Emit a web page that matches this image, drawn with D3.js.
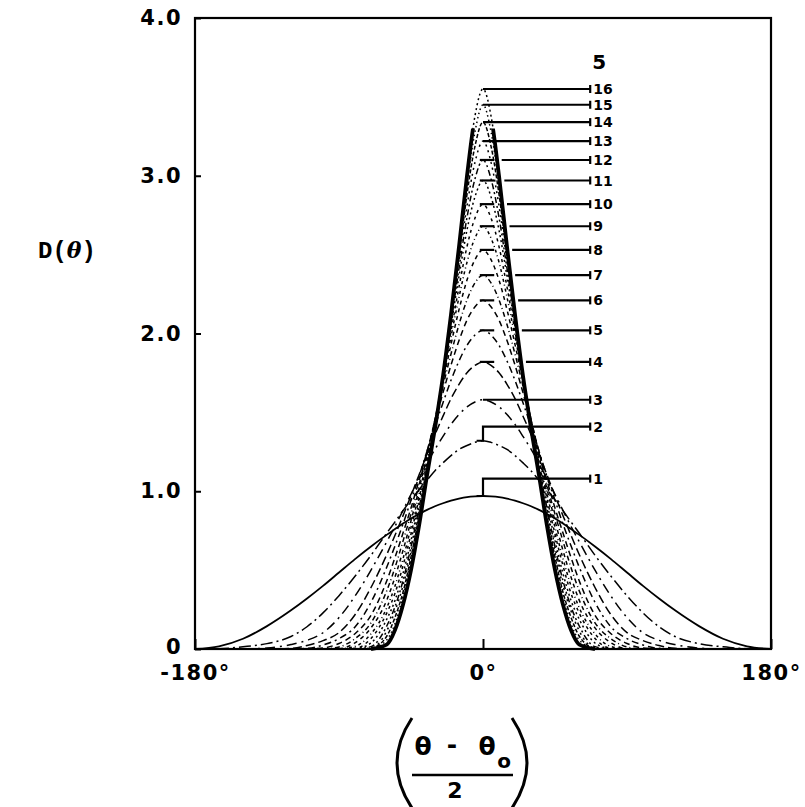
<!DOCTYPE html>
<html lang="en">
  <head>
    <meta charset="utf-8">
    <title>D(theta) curves</title>
    <script src="https://cdnjs.cloudflare.com/ajax/libs/d3/7.8.5/d3.min.js"></script>
    <style type="text/css">
      body { margin: 0; background: #fff; }
      svg { display: block; }
    </style>
  </head>
  <body>
    <script type="text/javascript">
    //Width and height
    var w = 805;
    var h = 807;

    // D(theta) at |(theta - theta0)/2| = halfAngles (curves are symmetric)
    var halfAngles = [0, 5, 10, 15, 20, 25, 30, 35, 40, 45, 50, 55, 60, 70, 80, 90, 100, 110, 120, 135, 150, 165, 180];

    var curve1  = [0.97, 0.968, 0.963, 0.953, 0.94, 0.924, 0.905, 0.882, 0.855, 0.827, 0.795, 0.76, 0.725, 0.65, 0.57, 0.485, 0.40, 0.32, 0.245, 0.145, 0.065, 0.017, 0];
    var curve2  = [1.32, 1.31, 1.29, 1.265, 1.226, 1.18, 1.13, 1.07, 1.01, 0.945, 0.877, 0.806, 0.737, 0.594, 0.461, 0.338, 0.229, 0.141, 0.079, 0.034, 0.014, 0.002, 0];
    var curve3  = [1.58, 1.566, 1.535, 1.487, 1.424, 1.348, 1.267, 1.177, 1.079, 0.981, 0.878, 0.778, 0.683, 0.50, 0.335, 0.199, 0.103, 0.055, 0.028, 0.006, 0];
    var curve4  = [1.82, 1.798, 1.751, 1.678, 1.587, 1.476, 1.36, 1.234, 1.103, 0.972, 0.845, 0.721, 0.602, 0.39, 0.217, 0.104, 0.053, 0.022, 0.004, 0];
    var curve5  = [2.02, 1.99, 1.925, 1.826, 1.703, 1.561, 1.412, 1.254, 1.093, 0.943, 0.792, 0.654, 0.523, 0.296, 0.14, 0.066, 0.025, 0.004, 0];
    var curve6  = [2.21, 2.17, 2.085, 1.955, 1.80, 1.625, 1.441, 1.253, 1.068, 0.894, 0.735, 0.58, 0.436, 0.214, 0.097, 0.035, 0.006, 0];
    var curve7  = [2.37, 2.321, 2.213, 2.057, 1.87, 1.667, 1.455, 1.242, 1.039, 0.855, 0.684, 0.516, 0.373, 0.166, 0.065, 0.013, 0];
    var curve8  = [2.53, 2.468, 2.339, 2.151, 1.931, 1.695, 1.457, 1.224, 1.013, 0.813, 0.624, 0.456, 0.313, 0.134, 0.039, 0.002, 0];
    var curve9  = [2.68, 2.605, 2.452, 2.23, 1.98, 1.718, 1.451, 1.201, 0.981, 0.771, 0.572, 0.40, 0.265, 0.096, 0.016, 0];
    var curve10 = [2.82, 2.732, 2.551, 2.295, 2.015, 1.728, 1.438, 1.182, 0.953, 0.729, 0.528, 0.353, 0.231, 0.067, 0.004, 0];
    var curve11 = [2.97, 2.867, 2.656, 2.363, 2.05, 1.734, 1.429, 1.167, 0.928, 0.687, 0.478, 0.308, 0.192, 0.038, 0];
    var curve12 = [3.10, 2.981, 2.736, 2.412, 2.071, 1.731, 1.419, 1.148, 0.893, 0.648, 0.432, 0.268, 0.149, 0.015, 0];
    var curve13 = [3.22, 3.086, 2.809, 2.457, 2.089, 1.732, 1.414, 1.139, 0.869, 0.615, 0.401, 0.241, 0.118, 0.005, 0];
    var curve14 = [3.34, 3.188, 2.882, 2.491, 2.106, 1.722, 1.406, 1.131, 0.841, 0.584, 0.36, 0.201, 0.084, 0];
    var curve15 = [3.45, 3.28, 2.939, 2.526, 2.113, 1.718, 1.409, 1.123, 0.83, 0.555, 0.338, 0.161, 0.059, 0];
    var curve16 = [3.55, 3.38, 3.00, 2.55, 2.12, 1.73, 1.40, 1.10, 0.78, 0.50, 0.28, 0.12, 0.03, 0];

    var curves = [curve1, curve2, curve3, curve4, curve5, curve6, curve7, curve8,
                  curve9, curve10, curve11, curve12, curve13, curve14, curve15, curve16];
    var curveLabels = ["1", "2", "3", "4", "5", "6", "7", "8", "9", "10", "11", "12", "13", "14", "15", "16"];
    // height of each label's leader line
    var leaderLevels = [1.08, 1.41, 1.58, 1.82, 2.02, 2.21, 2.37, 2.53, 2.68, 2.82, 2.97, 3.10, 3.22, 3.34, 3.45, 3.55];

    var yTicks = [0, 1, 2, 3, 4];
    var yTickLabels = ["0", "1.0", "2.0", "3.0", "4.0"];
    var xTicks = [-180, 0, 180];
    var xTickLabels = ["-180°", "0°", "180°"];

    var dashes = ["none", "12,4,2,4", "10,5,2,5", "9,4", "7,4,2,4", "6,4", "5,3,1,3", "4,4",
                  "3,3,1,3", "3,4", "2,3", "6,3,2,3", "2,4", "4,2", "1.5,3", "2,3"];

    var x = d3.scaleLinear().domain([-180, 180]).range([195, 771]);
    var y = d3.scaleLinear().domain([0, 4]).range([649, 18]);

    var svg = d3.select("body")
                .append("svg")
                .attr("width", w)
                .attr("height", h);

    var numFont = "'DejaVu Sans', sans-serif";

    // the heavy line is only solid up to about 3.3, dotted above
    svg.append("clipPath")
       .attr("id", "heavyClip")
       .append("rect")
       .attr("x", 0)
       .attr("y", y(3.3))
       .attr("width", w)
       .attr("height", y(0) - y(3.3) + 5);

    // mirror a half profile into a full curve
    function fullCurve(vals) {
      var left = vals.map(function(v, i) { return [-halfAngles[i], v]; }).reverse();
      var right = vals.slice(1).map(function(v, i) { return [halfAngles[i + 1], v]; });
      return left.concat(right);
    }

    var line = d3.line()
                 .x(function(d) { return x(d[0]); })
                 .y(function(d) { return y(d[1]); })
                 .curve(d3.curveMonotoneX);

    // thin dashed curves first, heavy ones on top
    var order = [1, 2, 3, 4, 5, 6, 7, 8, 9, 10, 11, 12, 13, 14, 15, 0];
    svg.append("g")
       .selectAll("path")
       .data(order)
       .enter()
       .append("path")
       .attr("d", function(k) { return line(fullCurve(curves[k])); })
       .attr("fill", "none")
       .attr("stroke", "#000")
       .attr("stroke-width", function(k) { return k == 0 ? 1.8 : 1.5; })
       .attr("stroke-dasharray", function(k) { return dashes[k]; });

    svg.append("path")
       .attr("d", line(fullCurve(curve16)))
       .attr("clip-path", "url(#heavyClip)")
       .attr("fill", "none")
       .attr("stroke", "#000")
       .attr("stroke-width", 3.8);

    // frame
    svg.append("rect")
       .attr("x", x(-180))
       .attr("y", y(4))
       .attr("width", x(180) - x(-180))
       .attr("height", y(0) - y(4))
       .attr("fill", "none")
       .attr("stroke", "#000")
       .attr("stroke-width", 2.2);

    // axes
    var yAxis = d3.axisLeft(y)
                  .tickValues(yTicks)
                  .tickSize(-6)
                  .tickPadding(13)
                  .tickFormat(function(d, i) { return yTickLabels[i]; });
    var gy = svg.append("g").attr("transform", "translate(" + x(-180) + ",0)").call(yAxis);

    var xAxis = d3.axisBottom(x)
                  .tickValues(xTicks)
                  .tickSize(-10)
                  .tickPadding(16)
                  .tickFormat(function(d, i) { return xTickLabels[i]; });
    var gx = svg.append("g").attr("transform", "translate(0," + y(0) + ")").call(xAxis);

    [gx, gy].forEach(function(g) {
      g.select(".domain").remove();
      g.selectAll("line").attr("stroke", "#000").attr("stroke-width", 2);
      g.selectAll("text")
       .attr("font-family", numFont)
       .attr("font-weight", "bold")
       .attr("font-size", "21px")
       .attr("letter-spacing", "1.5px")
       .attr("fill", "#000");
    });
    gy.selectAll("text").filter(function(d) { return d == 0; }).attr("dy", "0.2em");

    // where the heavy curve meets a level (for leader start)
    function heavyCross(level) {
      for (var i = 1; i < curve16.length; i++) {
        if (curve16[i] <= level) {
          var t = (curve16[i - 1] - level) / (curve16[i - 1] - curve16[i]);
          return halfAngles[i - 1] + t * (halfAngles[i] - halfAngles[i - 1]);
        }
      }
      return 0;
    }

    var leaderEnd = 67;
    var leaders = svg.append("g")
                     .attr("stroke", "#000")
                     .attr("stroke-width", 2.2)
                     .attr("fill", "none");

    curves.forEach(function(vals, k) {
      var lv = leaderLevels[k];
      var peak = vals[0];
      var start = 0;
      if (k >= 3 && k <= 11) {
        start = heavyCross(lv) + 3;
        // short stroke on top of the peak
        leaders.append("path")
               .attr("d", "M" + x(-2) + "," + y(peak) + "H" + x(7));
      }
      if (k <= 1) {
        leaders.append("path")
               .attr("d", "M" + x(-4) + "," + y(peak) + "H" + x(0) + "V" + y(lv) + "H" + x(leaderEnd));
      } else {
        leaders.append("path")
               .attr("d", "M" + x(start) + "," + y(lv) + "H" + x(leaderEnd));
      }
      leaders.append("path")
             .attr("d", "M" + x(leaderEnd) + "," + (y(lv) - 4) + "V" + (y(lv) + 4));
    });

    svg.append("g")
       .selectAll("text")
       .data(curveLabels)
       .enter()
       .append("text")
       .text(function(d) { return d; })
       .attr("x", x(leaderEnd) + 3)
       .attr("y", function(d, i) { return y(leaderLevels[i]); })
       .attr("dy", "0.36em")
       .attr("font-family", numFont)
       .attr("font-weight", "bold")
       .attr("font-size", "14px")
       .attr("fill", "#000");

    svg.append("text")
       .text("5")
       .attr("x", x(leaderEnd) + 2)
       .attr("y", 69)
       .attr("font-family", numFont)
       .attr("font-weight", "bold")
       .attr("font-size", "20px")
       .attr("fill", "#000");

    // y label
    var yl = svg.append("text")
                .attr("x", 38)
                .attr("y", 258)
                .attr("font-family", "'Liberation Mono', monospace")
                .attr("font-weight", "bold")
                .attr("font-size", "24px")
                .attr("fill", "#000");
    yl.append("tspan").text("D(");
    yl.append("tspan").attr("font-style", "italic").attr("font-family", "'DejaVu Serif', serif").attr("font-size", "22px").text("θ");
    yl.append("tspan").text(")");

    // x label: ((theta - theta_o) / 2)
    var xl = svg.append("g")
                .attr("font-family", numFont)
                .attr("font-weight", "bold")
                .attr("fill", "#000");
    xl.append("text").text("θ").attr("x", 423).attr("y", 755).attr("font-size", "25px").attr("text-anchor", "middle");
    xl.append("text").text("-").attr("x", 452).attr("y", 753).attr("font-size", "25px").attr("text-anchor", "middle");
    xl.append("text").text("θ").attr("x", 487).attr("y", 755).attr("font-size", "25px").attr("text-anchor", "middle");
    xl.append("text").text("o").attr("x", 504).attr("y", 768).attr("font-size", "20px").attr("text-anchor", "middle");
    xl.append("text").text("2").attr("x", 455).attr("y", 798).attr("font-size", "22px").attr("text-anchor", "middle");

    svg.append("path")
       .attr("d", "M412,775H513")
       .attr("stroke", "#000")
       .attr("stroke-width", 2.5);
    svg.append("path")
       .attr("d", "M412,718Q382,763 412,808M512,718Q542,763 512,808")
       .attr("fill", "none")
       .attr("stroke", "#000")
       .attr("stroke-width", 3);
    </script>
  </body>
</html>
